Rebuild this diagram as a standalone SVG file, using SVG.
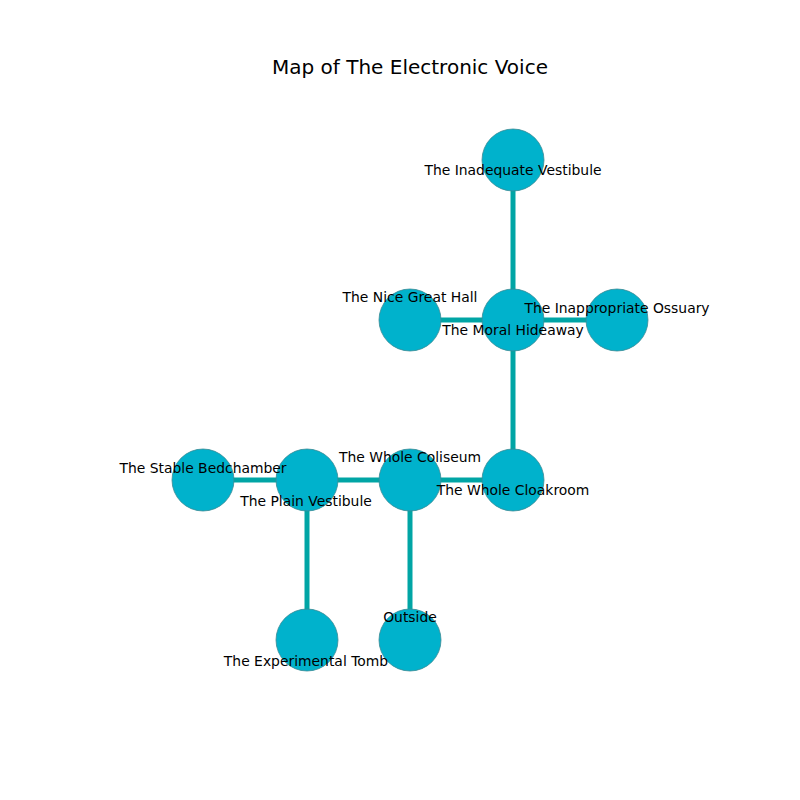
<svg xmlns="http://www.w3.org/2000/svg" width="800" height="800" viewBox="0 0 800 800">
<style>
.e{stroke:#00a5a5;stroke-width:5;fill:none}
.n{fill:#00b2cc;stroke:#3a8a94;stroke-width:0.8}
.l{font-family:"DejaVu Sans",sans-serif;font-size:13.9px;fill:#000;text-anchor:middle;dominant-baseline:central}
.t{font-family:"DejaVu Sans",sans-serif;font-size:20px;fill:#000;text-anchor:middle;dominant-baseline:central}
</style>
<rect width="800" height="800" fill="#fff"/>
<text class="t" x="410" y="67">Map of The Electronic Voice</text>
<g id="edges">
<line class="e" x1="513" y1="160" x2="513" y2="320"/>
<line class="e" x1="410" y1="320" x2="617" y2="320"/>
<line class="e" x1="513" y1="320" x2="513" y2="480"/>
<line class="e" x1="203" y1="480" x2="513" y2="480"/>
<line class="e" x1="307" y1="480" x2="307" y2="640"/>
<line class="e" x1="410" y1="480" x2="410" y2="640"/>
</g>
<g id="n-inadequate"><circle class="n" cx="513" cy="160" r="31"/></g>
<g id="n-nice"><circle class="n" cx="410" cy="320" r="31"/></g>
<g id="n-moral"><circle class="n" cx="513" cy="320" r="31"/></g>
<g id="n-ossuary"><circle class="n" cx="617" cy="320" r="31"/></g>
<g id="n-stable"><circle class="n" cx="203" cy="480" r="31"/></g>
<g id="n-plain"><circle class="n" cx="307" cy="480" r="31"/></g>
<g id="n-coliseum"><circle class="n" cx="410" cy="480" r="31"/></g>
<g id="n-cloakroom"><circle class="n" cx="513" cy="480" r="31"/></g>
<g id="n-tomb"><circle class="n" cx="307" cy="640" r="31"/></g>
<g id="n-outside"><circle class="n" cx="410" cy="640" r="31"/></g>
<g id="labels">
<text class="l" x="513" y="170">The Inadequate Vestibule</text>
<text class="l" x="410" y="297">The Nice Great Hall</text>
<text class="l" x="513" y="330">The Moral Hideaway</text>
<text class="l" x="617" y="308">The Inappropriate Ossuary</text>
<text class="l" x="203" y="468">The Stable Bedchamber</text>
<text class="l" x="306" y="501">The Plain Vestibule</text>
<text class="l" x="410" y="457">The Whole Coliseum</text>
<text class="l" x="513" y="490">The Whole Cloakroom</text>
<text class="l" x="410" y="617">Outside</text>
<text class="l" x="306" y="661">The Experimental Tomb</text>
</g>
</svg>
